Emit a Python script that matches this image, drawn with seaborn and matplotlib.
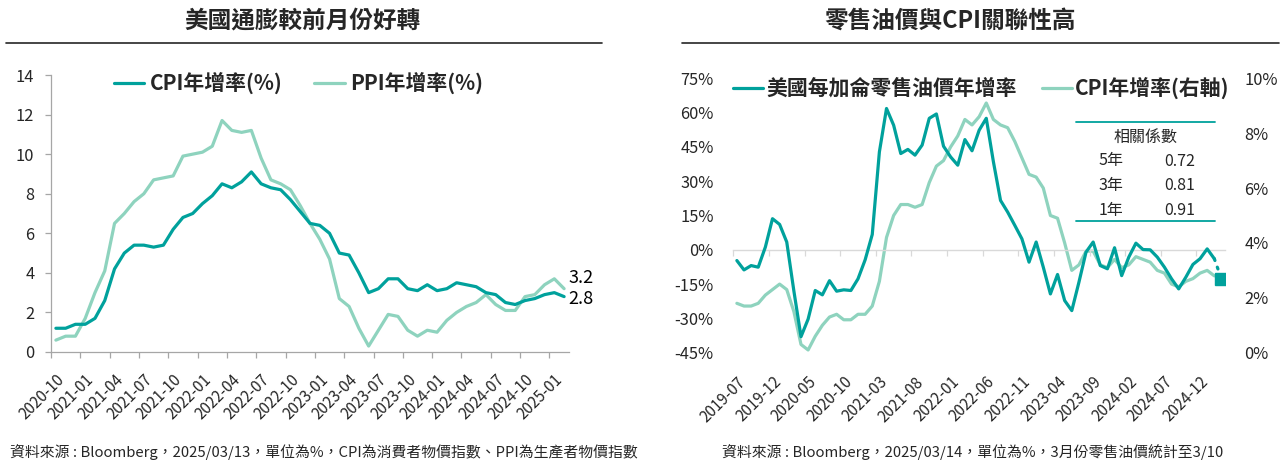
import numpy as np
import pandas as pd
import matplotlib
matplotlib.use("Agg")
import matplotlib.pyplot as plt
from matplotlib.lines import Line2D
import seaborn as sns

# ---------------- data ----------------
# US CPI YoY (%), 2019-07 .. 2025-02
cpi_months = pd.period_range("2019-07", "2025-02", freq="M").strftime("%Y-%m").tolist()
cpi_yoy = [1.8, 1.7, 1.7, 1.8, 2.1, 2.3, 2.5, 2.3, 1.5, 0.3, 0.1, 0.6,
           1.0, 1.3, 1.4, 1.2, 1.2, 1.4, 1.4, 1.7, 2.6, 4.2, 5.0, 5.4,
           5.4, 5.3, 5.4, 6.2, 6.8, 7.0, 7.5, 7.9, 8.5, 8.3, 8.6, 9.1,
           8.5, 8.3, 8.2, 7.7, 7.1, 6.5, 6.4, 6.0, 5.0, 4.9, 4.0, 3.0,
           3.2, 3.7, 3.7, 3.2, 3.1, 3.4, 3.1, 3.2, 3.5, 3.4, 3.3, 3.0,
           2.9, 2.5, 2.4, 2.6, 2.7, 2.9, 3.0, 2.8]

# Left chart: 2020-10 .. 2025-02
left_months = pd.period_range("2020-10", "2025-02", freq="M").strftime("%Y-%m").tolist()
left_cpi = cpi_yoy[cpi_months.index("2020-10"):]
left_ppi = [0.6, 0.8, 0.8, 1.7, 3.0, 4.1, 6.5, 7.0, 7.6, 8.0, 8.7, 8.8,
            8.9, 9.9, 10.0, 10.1, 10.4, 11.7, 11.2, 11.1, 11.2, 9.8, 8.7, 8.5,
            8.2, 7.4, 6.5, 5.7, 4.7, 2.7, 2.3, 1.2, 0.3, 1.1, 1.9, 1.8,
            1.1, 0.8, 1.1, 1.0, 1.6, 2.0, 2.3, 2.5, 2.9, 2.4, 2.1, 2.1,
            2.8, 2.9, 3.4, 3.7, 3.2]
left_ticklabels = ["2020-10", "2021-01", "2021-04", "2021-07", "2021-10", "2022-01",
                   "2022-04", "2022-07", "2022-10", "2023-01", "2023-04", "2023-07",
                   "2023-10", "2024-01", "2024-04", "2024-07", "2024-10", "2025-01"]

# Right chart: retail gasoline YoY (%), 2019-07 .. 2025-03 (last month partial, to 3/10)
oil_months = pd.period_range("2019-07", "2025-03", freq="M").strftime("%Y-%m").tolist()
oil_yoy = [-4.7, -8.8, -6.9, -7.6, 1.2, 13.6, 11.1, 3.4, -18.0, -38.0,
           -30.3, -17.8, -19.7, -13.5, -18.1, -17.5, -17.8, -12.7, -4.4, 6.7,
           42.8, 61.8, 54.5, 42.1, 43.9, 41.4, 45.8, 57.5, 59.4, 45.3,
           40.6, 37.0, 48.2, 43.3, 52.3, 57.5, 38.5, 21.6, 16.5, 10.7,
           4.8, -5.4, 3.4, -7.6, -19.3, -10.8, -22.2, -26.6, -14.2, -1.0,
           3.4, -6.9, -8.3, 0.9, -11.3, -3.2, 2.9, 0.1, 0.0, -3.2,
           -7.6, -12.7, -17.1, -12.0, -6.4, -3.9, 0.4, -3.9, -12.7]
right_ticklabels = ["2019-07", "2019-12", "2020-05", "2020-10", "2021-03", "2021-08",
                    "2022-01", "2022-06", "2022-11", "2023-04", "2023-09", "2024-02",
                    "2024-07", "2024-12"]
corr_periods = ["5年", "3年", "1年"]
corr_values = [0.72, 0.81, 0.91]

left_title = "美國通膨較前月份好轉"
right_title = "零售油價與CPI關聯性高"
left_note = "資料來源 : Bloomberg，2025/03/13，單位為%，CPI為消費者物價指數、PPI為生產者物價指數"
right_note = "資料來源 : Bloomberg，2025/03/14，單位為%，3月份零售油價統計至3/10"

# ---------------- style ----------------
sns.set_theme(style="white")
plt.rcParams["font.family"] = ["Noto Sans CJK TC", "DejaVu Sans"]
plt.rcParams["axes.unicode_minus"] = False

DARK = "#00A19C"
LIGHT = "#8ED3BE"
GRID = "#D9D9D9"
AXC = "#A6A6A6"
TXT = "#262626"

W, H = 1283, 468
fig = plt.figure(figsize=(W / 100, H / 100), dpi=100)
fig.patch.set_facecolor("white")

def fx(px):
    return px / W

def fy(py):
    return 1 - py / H

# ---------------- left chart ----------------
ax1 = fig.add_axes([fx(51), fy(352), fx(518), 277 / H])
lx = np.arange(len(left_months))
df_left = pd.DataFrame({"pos": lx, "cpi": left_cpi, "ppi": left_ppi})
sns.lineplot(data=df_left, x="pos", y="ppi", ax=ax1, color=LIGHT, lw=2.3, label="PPI年增率(%)")
sns.lineplot(data=df_left, x="pos", y="cpi", ax=ax1, color=DARK, lw=2.3, label="CPI年增率(%)")
ax1.set_xlim(-0.5, len(left_months) - 0.5)
ax1.set_ylim(0, 14)
ax1.set_yticks(np.arange(0, 15, 2))
ax1.set_yticklabels([f"{v:d}" for v in range(0, 15, 2)], fontsize=11.8, color=TXT)
lab_pos = [left_months.index(m) for m in left_ticklabels]
ax1.set_xticks(lab_pos)
ax1.set_xticklabels(left_ticklabels, rotation=45, ha="right", rotation_mode="anchor",
                    fontsize=11, color=TXT)
ax1.set_xticks(np.array(lab_pos) - 0.5, minor=True)
ax1.tick_params(axis="x", which="major", length=0, pad=14)
ax1.tick_params(axis="x", which="minor", length=4, width=0.9, color=AXC, direction="out", bottom=True)
ax1.tick_params(axis="y", length=4, width=0.9, color=AXC, direction="out", left=True, pad=8)
for s in ["top", "right"]:
    ax1.spines[s].set_visible(False)
for s in ["left", "bottom"]:
    ax1.spines[s].set_color(AXC)
    ax1.spines[s].set_linewidth(0.9)
ax1.set_xlabel("")
ax1.set_ylabel("")
h, l = ax1.get_legend_handles_labels()
ax1.legend(h[::-1], l[::-1], loc="center left", bbox_to_anchor=(fx(114), fy(83)),
           bbox_transform=fig.transFigure, ncol=2, frameon=False, borderpad=0, borderaxespad=0,
           handlelength=1.45, handletextpad=0.25, columnspacing=1.55,
           prop={"size": 15, "weight": "bold"})
ax1.annotate(f"{left_ppi[-1]:.1f}", xy=(lx[-1], left_ppi[-1]), xytext=(3, 8),
             textcoords="offset points", fontsize=13, color="black", va="center", ha="left")
ax1.annotate(f"{left_cpi[-1]:.1f}", xy=(lx[-1], left_cpi[-1]), xytext=(3, -2),
             textcoords="offset points", fontsize=13, color="black", va="center", ha="left")

# ---------------- right chart ----------------
ax2 = fig.add_axes([fx(733.3), fy(352.7), fx(491.7), 274.4 / H])
ox = np.arange(len(oil_months))
cx = np.arange(len(cpi_months))
n_full = len(oil_months) - 1
df_oil = pd.DataFrame({"pos": ox[:n_full], "oil": oil_yoy[:n_full]})
df_oil_tail = pd.DataFrame({"pos": ox[n_full - 1:], "oil": oil_yoy[n_full - 1:]})
df_cpi = pd.DataFrame({"pos": cx, "cpi": cpi_yoy})
sns.lineplot(data=df_oil, x="pos", y="oil", ax=ax2, color=DARK, lw=2.3, label="美國每加侖零售油價年增率", zorder=3)
sns.lineplot(data=df_oil_tail, x="pos", y="oil", ax=ax2, color=DARK, lw=2.3, ls=(0, (0.6, 2.2)),
             dash_capstyle="round", legend=False, zorder=3)
ax2.plot(ox[-1], oil_yoy[-1], marker="s", ms=8, color=DARK, ls="none", zorder=4)
ax2.set_xlim(-0.5, len(oil_months) - 0.5)
ax2.set_ylim(-45, 75)
ax2.set_yticks(np.arange(-45, 76, 15))
ax2.set_yticklabels([f"{v:d}%" for v in range(-45, 76, 15)], fontsize=11.8, color=TXT)
ax2.tick_params(axis="y", length=0, pad=14)
rlab = [oil_months.index(m) for m in right_ticklabels]
ax2.set_xticks(rlab)
ax2.set_xticklabels(right_ticklabels, rotation=45, ha="right", rotation_mode="anchor",
                    fontsize=11, color=TXT)
ax2.tick_params(axis="x", length=0, pad=15)
for s in ax2.spines.values():
    s.set_visible(False)
ax2.set_xlabel("")
ax2.set_ylabel("")
# zero line with category tick marks
zero_frac = (0 - (-45)) / (75 - (-45))
sec = ax2.secondary_xaxis(zero_frac)
sec.set_xticks(np.array(rlab) - 0.5)
sec.set_xticklabels([])
sec.tick_params(axis="x", length=4, width=0.9, color=GRID, direction="out")
for k, s in sec.spines.items():
    s.set_color(GRID)
    s.set_linewidth(1.0)

ax2r = ax2.twinx()
sns.lineplot(data=df_cpi, x="pos", y="cpi", ax=ax2r, color=LIGHT, lw=2.3, label="CPI年增率(右軸)", zorder=2)
ax2r.set_ylim(0, 10)
ax2r.set_yticks(np.arange(0, 11, 2))
ax2r.set_yticklabels([f"{v:d}%" for v in range(0, 11, 2)], fontsize=11.8, color=TXT)
ax2r.tick_params(axis="y", length=0, pad=14)
for s in ax2r.spines.values():
    s.set_visible(False)
ax2r.set_ylabel("")
ax2.set_zorder(ax2r.get_zorder() + 1)
ax2.patch.set_visible(False)
h1, l1 = ax2.get_legend_handles_labels()
h2, l2 = ax2r.get_legend_handles_labels()
ax2r.get_legend().remove()
ax2.legend(h1 + h2, l1 + l2, loc="center left", bbox_to_anchor=(fx(733), fy(88)),
           bbox_transform=fig.transFigure, ncol=2, frameon=False, borderpad=0, borderaxespad=0,
           handlelength=1.45, handletextpad=0.15, columnspacing=1.2,
           prop={"size": 15, "weight": "bold"})

# correlation table
fig.add_artist(Line2D([fx(1076), fx(1215)], [fy(122.3), fy(122.3)], color=DARK, lw=1.3))
fig.add_artist(Line2D([fx(1076), fx(1215)], [fy(221), fy(221)], color=DARK, lw=1.3))
fig.text(fx(1146), fy(137.5), "相關係數", ha="center", va="center", fontsize=11.5, color=TXT)
for i, (p, v) in enumerate(zip(corr_periods, corr_values)):
    yy = fy(161 + i * 24.7)
    fig.text(fx(1111), yy, p, ha="center", va="center", fontsize=11.5, color=TXT)
    fig.text(fx(1180), yy, f"{v:.2f}", ha="center", va="center", fontsize=11.5, color=TXT)

# titles and underlines
fig.text(fx(302), fy(21), left_title, ha="center", va="center", fontsize=17, weight="bold", color=TXT)
fig.text(fx(950), fy(21), right_title, ha="center", va="center", fontsize=17, weight="bold", color=TXT)
fig.add_artist(Line2D([fx(6), fx(602)], [fy(43), fy(43)], color="#262626", lw=1.2))
fig.add_artist(Line2D([fx(682), fx(1279)], [fy(43), fy(43)], color="#262626", lw=1.2))

# footers
fig.text(fx(10), fy(452), left_note, ha="left", va="center", fontsize=10.7, color=TXT)
fig.text(fx(722), fy(452), right_note, ha="left", va="center", fontsize=10.7, color=TXT)

fig.savefig("out.png", dpi=100, facecolor="white")
